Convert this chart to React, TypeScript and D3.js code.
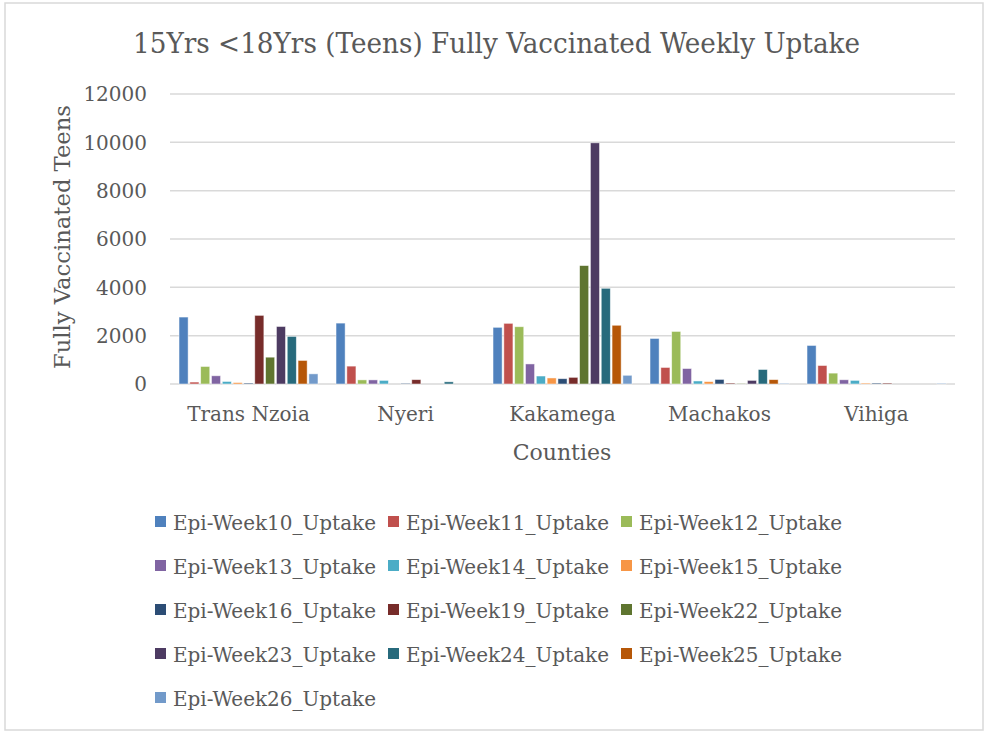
import React from "react";
import * as d3 from "d3";

const counties = ["Trans Nzoia", "Nyeri", "Kakamega", "Machakos", "Vihiga"];
const seriesNames = [
  "Epi-Week10_Uptake", "Epi-Week11_Uptake", "Epi-Week12_Uptake", "Epi-Week13_Uptake",
  "Epi-Week14_Uptake", "Epi-Week15_Uptake", "Epi-Week16_Uptake", "Epi-Week19_Uptake",
  "Epi-Week22_Uptake", "Epi-Week23_Uptake", "Epi-Week24_Uptake", "Epi-Week25_Uptake",
  "Epi-Week26_Uptake",
];
const seriesColors = [
  "#4F81BD", "#C0504D", "#9BBB59", "#8064A2", "#4BACC6", "#F79646", "#2C4D75",
  "#772C2A", "#5F7530", "#4D3B62", "#276A7C", "#B65708", "#729ACA",
];
// values per series, in county order
const week10 = [2770, 2520, 2345, 1885, 1595];
const week11 = [80, 740, 2510, 685, 765];
const week12 = [725, 170, 2370, 2175, 450];
const week13 = [340, 170, 830, 640, 175];
const week14 = [105, 150, 330, 125, 150];
const week15 = [60, 0, 250, 100, 40];
const week16 = [40, 30, 220, 190, 40];
const week19 = [2840, 180, 275, 40, 40];
const week22 = [1110, 0, 4900, 20, 0];
const week23 = [2380, 0, 9980, 150, 0];
const week24 = [1970, 90, 3960, 600, 0];
const week25 = [975, 0, 2430, 180, 0];
const week26 = [420, 0, 360, 30, 30];
const seriesValues = [week10, week11, week12, week13, week14, week15, week16, week19, week22, week23, week24, week25, week26];
const yTicks = [0, 2000, 4000, 6000, 8000, 10000, 12000];

const title = "15Yrs <18Yrs (Teens) Fully Vaccinated Weekly Uptake";
const yTitle = "Fully Vaccinated Teens";
const xTitle = "Counties";

const FONT = "'DejaVu Serif', serif";
const TEXT = "#595959";

export default function App() {
  const W = 994, H = 733;
  const left = 170, right = 955, top = 94, bottom = 384;
  const x0 = d3.scaleBand<string>().domain(counties).range([left, right]).paddingInner(0.115).paddingOuter(0.0575);
  const x1 = d3.scaleBand<string>().domain(seriesNames).range([0, x0.bandwidth()]).paddingInner(0.16);
  const y = d3.scaleLinear().domain([0, 12000]).range([bottom, top]);

  const legendCols = [155, 388, 621];
  const legendRows = [522, 566, 610, 654, 698];

  return (
    <div style={{ position: "absolute", left: 0, top: 0 }}>
      <svg width={W} height={H} style={{ display: "block", background: "#fff" }}>
        <rect x={5} y={3} width={978} height={727} fill="#fff" stroke="#D9D9D9" strokeWidth={1.5} />
        <text x={(133 + 860) / 2} y={53} textAnchor="middle" fontFamily={FONT} fontSize={27} fill={TEXT}
          textLength={727} lengthAdjust="spacingAndGlyphs">{title}</text>

        {yTicks.map((t) => (
          <g key={t}>
            <line x1={left} x2={right} y1={y(t)} y2={y(t)} stroke="#D9D9D9" strokeWidth={1.5} />
            <text x={147} y={y(t)} dy="0.36em" textAnchor="end" fontFamily={FONT} fontSize={20} fill={TEXT}>{t}</text>
          </g>
        ))}

        {counties.map((c, ci) => (
          <g key={c} transform={`translate(${x0(c)},0)`}>
            {seriesNames.map((s, si) => {
              const v = seriesValues[si][ci];
              if (!v) return null;
              return (
                <rect key={s} x={x1(s)} y={y(v)} width={x1.bandwidth()} height={bottom - y(v)}
                  fill={seriesColors[si]} stroke="#fff" strokeOpacity={0.6} strokeWidth={0.8} />
              );
            })}
          </g>
        ))}

        {counties.map((c) => (
          <text key={c} x={(x0(c) as number) + x0.bandwidth() / 2} y={421} textAnchor="middle"
            fontFamily={FONT} fontSize={20} fill={TEXT}>{c}</text>
        ))}

        <text x={562} y={460} textAnchor="middle" fontFamily={FONT} fontSize={22} fill={TEXT}>{xTitle}</text>
        <text transform={`translate(70,237) rotate(-90)`} textAnchor="middle" fontFamily={FONT} fontSize={22}
          fill={TEXT} textLength={264} lengthAdjust="spacingAndGlyphs">{yTitle}</text>

        {seriesNames.map((s, i) => {
          const cx = legendCols[i % 3];
          const cy = legendRows[Math.floor(i / 3)];
          return (
            <g key={s}>
              <rect x={cx} y={cy - 6} width={11} height={11} fill={seriesColors[i]} />
              <text x={cx + 18} y={cy} dy="0.37em" fontFamily={FONT} fontSize={21} fill={TEXT}
                textLength={203} lengthAdjust="spacingAndGlyphs">{s}</text>
            </g>
          );
        })}
      </svg>
    </div>
  );
}
